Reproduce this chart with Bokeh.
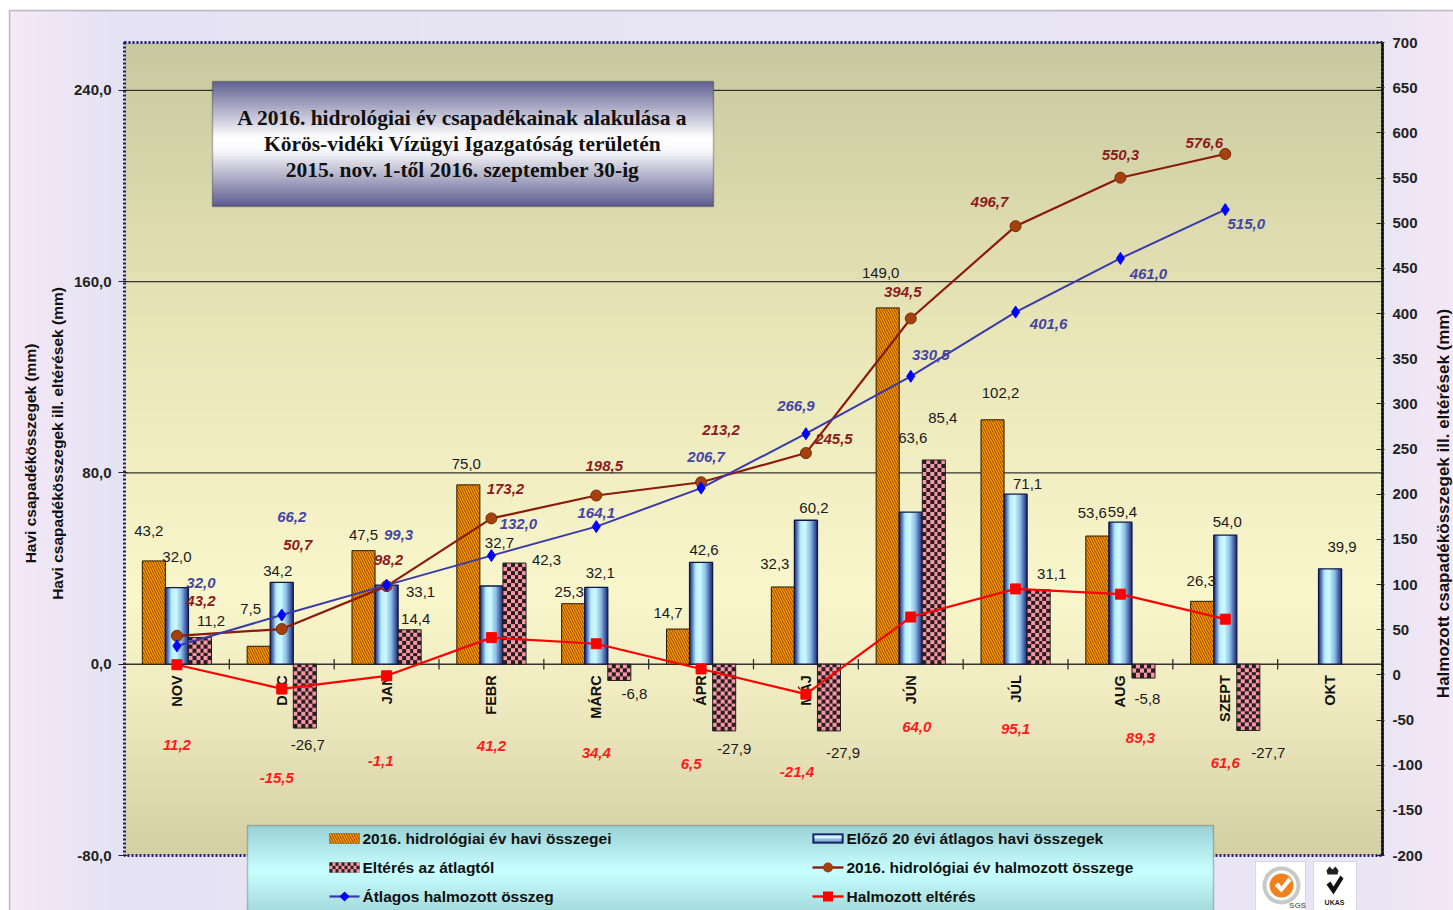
import math
import numpy as np
from bokeh.plotting import figure
from bokeh.models import (Range1d, LinearAxis, FixedTicker, ColumnDataSource,
                          Label, BoxAnnotation, PolyAnnotation)
from bokeh.core.properties import value
from bokeh.embed import file_html
from bokeh.resources import INLINE

# ---------------- data ----------------
months = ["NOV", "DEC", "JAN", "FEBR", "MÁRC", "ÁPR", "MÁJ", "JÚN", "JÚL", "AUG", "SZEPT", "OKT"]
monthly_2016 = [43.2, 7.5, 47.5, 75.0, 25.3, 14.7, 32.3, 149.0, 102.2, 53.6, 26.3]
avg_20yr = [32.0, 34.2, 33.1, 32.7, 32.1, 42.6, 60.2, 63.6, 71.1, 59.4, 54.0, 39.9]
deviation = [11.2, -26.7, 14.4, 42.3, -6.8, -27.9, -27.9, 85.4, 31.1, -5.8, -27.7]
cum_2016 = [43.2, 50.7, 98.2, 173.2, 198.5, 213.2, 245.5, 394.5, 496.7, 550.3, 576.6]
cum_avg = [32.0, 66.2, 99.3, 132.0, 164.1, 206.7, 266.9, 330.5, 401.6, 461.0, 515.0]
cum_dev = [11.2, -15.5, -1.1, 41.2, 34.4, 6.5, -21.4, 64.0, 95.1, 89.3, 61.6]
left_ticks = [-80, 0, 80, 160, 240]
left_limits = (-80, 260)
grid_ticks = [80, 160, 240]
right_ticks = list(range(-200, 701, 50))
right_limits = (-200, 700)

title_lines = ["A 2016. hidrológiai év csapadékainak alakulása a",
               "Körös-vidéki Vízügyi Igazgatóság területén",
               "2015. nov. 1-től 2016. szeptember 30-ig"]
legend_names = ["2016. hidrológiai év havi összegei", "Előző 20 évi átlagos havi összegek",
                "Eltérés az átlagtól", "2016. hidrológiai év halmozott összege",
                "Átlagos halmozott összeg", "Halmozott eltérés"]
left_titles = ["Havi csapadékösszegek (mm)", "Havi csapadékösszegek ill. eltérések (mm)"]
right_title = "Halmozott csapadékösszegek ill. eltérések (mm)"

# label pixel offsets (styling only)
orange_off = [(-5, -30), (-8, -37), (0, -16), (-2, -21), (-4, -12), (-10, -16), (-8, -23),
              (-7, -35), (8, -27), (-5, -23), (-1, -20)]
blue_off = [(0, -31), (-4, -11), (34, 7), (8, -43), (4, -14), (3, -12), (8, -12), (2, -74),
            (12, -10), (2, -10), (2, -13), (12, -22)]
dev_off = [(11, -16), (3, 17), (6, -11), (32, -3), (15, 14), (10, 18), (14, 22), (9, -42),
           (13, -16), (4, 21), (20, 23)]
cum16_off = [(24, -35), (16, -84), (2, -26), (14, -29), (8, -30), (20, -52), (28, -14),
             (-8, -26), (-26, -24), (0, -23), (-21, -11)]
cumavg_off = [(24, -63), (10, -98), (12, -50), (27, -32), (0, -14), (5, -31), (-10, -28),
              (20, -21), (33, 12), (28, 16), (21, 14)]
cumdev_off = [(0, 80), (-5, 89), (-6, 85), (0, 108), (0, 109), (-10, 95), (-9, 78), (6, 110),
              (0, 140), (20, 144), (0, 144)]

SANS = "Liberation Sans"
SERIF = "Liberation Serif"


def fmt(v):
    return f"{v:.1f}".replace(".", ",")


# ---------------- geometry (page pixels) ----------------
W, H = 1453, 910
FL, FT, FR, FB = 124, 42, 1382, 855     # plotting area edges
NCAT = len(months)
ppx = (FR - FL) / NCAT
ppy = (FB - FT) / (left_limits[1] - left_limits[0])
ppc = (FB - FT) / (right_limits[1] - right_limits[0])

x_rng = Range1d(-FL / ppx, NCAT + (W - FR) / ppx)
y_rng = Range1d(left_limits[0] - (H - FB) / ppy, left_limits[1] + FT / ppy)
c_rng = Range1d(right_limits[0] - (H - FB) / ppc, right_limits[1] + FT / ppc)


def px2x(px):
    return (px - FL) / ppx


def py2y(py):
    return left_limits[0] + (FB - py) / ppy


p = figure(width=W, height=H, x_range=x_rng, y_range=y_rng, x_axis_location=None,
           y_axis_location=None, output_backend="svg", toolbar_location=None, min_border=0)
p.extra_y_ranges = {"cum": c_rng}
p.background_fill_color = "#FFFFFF"
p.border_fill_color = "#FFFFFF"
p.outline_line_color = None
p.grid.visible = False


def grad_color(stops, t):
    for (t0, c0), (t1, c1) in zip(stops[:-1], stops[1:]):
        if t <= t1:
            f = 0.0 if t1 == t0 else (t - t0) / (t1 - t0)
            return tuple(int(round(a + (b - a) * f)) for a, b in zip(c0, c1))
    return stops[-1][1]


def hexc(c):
    return "#%02x%02x%02x" % c


def rgba_img(rows):
    arr = np.array(rows, dtype=np.uint8)
    return arr.view(np.uint32).reshape(arr.shape[0], arr.shape[1])


# outer (chart area) horizontal gradient
outer_stops = [(0.0, (246, 232, 247)), (0.07, (229, 227, 243)), (0.5, (232, 230, 244)),
               (0.95, (233, 229, 244)), (1.0, (245, 231, 246))]
NC = 200
orow = [[*grad_color(outer_stops, (j + 0.5) / NC), 255] for j in range(NC)]
p.image_rgba(image=[rgba_img([orow, orow])], x=px2x(9), y=py2y(H), dw=px2x(W) - px2x(9),
             dh=py2y(10) - py2y(H), level="image")

# plotting-area vertical gradient (row 0 = bottom)
bg_stops = [(0.0, (200, 200, 160)), (0.35, (232, 229, 183)), (0.68, (249, 246, 204)),
            (0.8, (240, 235, 192)), (1.0, (212, 206, 164))]
N = 300
bg_rows = []
for i in range(N):
    t = 1 - (i + 0.5) / N
    bg_rows.append([[*grad_color(bg_stops, t), 255]])
p.image_rgba(image=[rgba_img(bg_rows)], x=0, y=left_limits[0], dw=NCAT,
             dh=left_limits[1] - left_limits[0], level="image")

# grid lines and zero line
p.segment(x0=[0] * len(grid_ticks), y0=grid_ticks, x1=[NCAT] * len(grid_ticks), y1=grid_ticks,
          line_color="#333333", line_width=1.2)
p.segment(x0=[0], y0=[0], x1=[NCAT], y1=[0], line_color="#333333", line_width=1.6)

xs = [i + 0.5 for i in range(NCAT)]
BW = 0.22

# orange bars
x_or = [xs[i] - BW for i in range(len(monthly_2016))]
p.vbar(x=x_or, top=monthly_2016, width=BW, fill_color="#FF9A00", line_color="#2a1a00",
       line_width=1, hatch_pattern="\\", hatch_color="#8A4200", hatch_scale=5,
       hatch_weight=1.0)

# blue cylinder bars (horizontal gradient image per bar)
blue_stops = [(0.0, (28, 40, 105)), (0.1, (80, 115, 180)), (0.25, (185, 238, 252)),
              (0.45, (205, 250, 255)), (0.7, (145, 195, 232)), (0.88, (70, 98, 170)),
              (1.0, (28, 40, 105))]
bcols = 24
brow = [[*grad_color(blue_stops, (j + 0.5) / bcols), 255] for j in range(bcols)]
blue_img = rgba_img([brow, brow])
p.image_rgba(image=[blue_img] * len(avg_20yr), x=[x - BW / 2 for x in xs], y=[0] * len(avg_20yr),
             dw=[BW] * len(avg_20yr), dh=avg_20yr)
p.vbar(x=xs, top=avg_20yr, width=BW, fill_color=None, line_color="#101848", line_width=1.3)

# checkered deviation bars
x_dev = [xs[i] + BW for i in range(len(deviation))]
cell = 4
dev_imgs = []
for v in deviation:
    nr = max(1, int(round(abs(v) * ppy / cell)))
    nc = 6
    rows = []
    for i in range(nr * cell):
        row = []
        for j in range(nc * cell):
            dark = ((i // cell) + (j // cell)) % 2 == 0
            row.append([38, 30, 34, 255] if dark else [250, 150, 162, 255])
        rows.append(row)
    dev_imgs.append(rgba_img(rows))
p.image_rgba(image=dev_imgs, x=[x - BW / 2 for x in x_dev], y=[min(0, v) for v in deviation],
             dw=[BW] * len(deviation), dh=[abs(v) for v in deviation])
p.vbar(x=x_dev, top=deviation, width=BW, fill_color=None, line_color="#222222", line_width=1)

# category tick marks on the zero line
bounds = list(range(1, NCAT))
p.segment(x0=bounds, y0=[-2.2] * len(bounds), x1=bounds, y1=[2.2] * len(bounds),
          line_color="#333333", line_width=1.3)

# category labels
p.text(x=xs, y=[0] * len(xs), text=months, angle=math.pi / 2, text_align="right",
       text_baseline="middle", y_offset=11, text_font=value(SANS), text_font_style="bold",
       text_font_size=value("14.5px"), text_color="#111111")

# plotting-area border (navy dotted) and right axis line
p.quad(left=[0], right=[NCAT], bottom=[left_limits[0]], top=[left_limits[1]], fill_color=None,
       line_color="#1E1E86", line_width=3, line_dash="2 2")
p.segment(x0=[NCAT], y0=[right_limits[0]], x1=[NCAT], y1=[right_limits[1]],
          y_range_name="cum", line_color="#111111", line_width=2.5)

# cumulative lines
n = len(cum_2016)
p.line(xs[:n], cum_2016, y_range_name="cum", line_color="#8B1C0C", line_width=2.2)
p.scatter(xs[:n], cum_2016, y_range_name="cum", marker="circle", size=11,
          fill_color="#A4410E", line_color="#7A2A05")
p.line(xs[:n], cum_avg, y_range_name="cum", line_color="#3A3AA8", line_width=2)
p.scatter(xs[:n], cum_avg, y_range_name="cum", marker="diamond", size=12,
          fill_color="#0000FF", line_color="#0000FF")
p.line(xs[:n], cum_dev, y_range_name="cum", line_color="#FF0000", line_width=2.2)
p.scatter(xs[:n], cum_dev, y_range_name="cum", marker="square", size=10,
          fill_color="#FF0000", line_color="#FF0000")


def labels(x, y, vals, offs, color, style, y_range_name=None, size="15px"):
    src = ColumnDataSource(dict(x=x, y=y, t=[fmt(v) for v in vals],
                                dx=[o[0] for o in offs], dy=[o[1] for o in offs]))
    kw = dict(source=src, x="x", y="y", text="t", x_offset="dx", y_offset="dy",
              text_align="center", text_baseline="middle", text_font=value(SANS),
              text_font_style=style, text_font_size=value(size), text_color=color)
    if y_range_name:
        kw["y_range_name"] = y_range_name
    p.text(**kw)


labels(x_or, monthly_2016, monthly_2016, orange_off, "#1a1a1a", "normal", size="15px")
labels(xs, avg_20yr, avg_20yr, blue_off, "#1a1a1a", "normal", size="15px")
labels(x_dev, deviation, deviation, dev_off, "#1a1a1a", "normal", size="15px")
labels(xs[:n], cum_2016, cum_2016, cum16_off, "#8E1B1B", "bold italic", "cum")
labels(xs[:n], cum_avg, cum_avg, cumavg_off, "#4545A5", "bold italic", "cum")
labels(xs[:n], cum_dev, cum_dev, cumdev_off, "#FF1A1A", "bold italic", "cum")


# ---------------- axes (fixed at the plotting-area edges) ----------------
def style_axis(ax):
    ax.axis_line_color = None
    ax.major_tick_line_color = "#222222"
    ax.minor_tick_line_color = None
    ax.major_label_text_font = SANS
    ax.major_label_text_font_style = "bold"
    ax.major_label_text_font_size = "15px"
    ax.major_label_text_color = "#222222"


lax = LinearAxis(fixed_location=0, ticker=FixedTicker(ticks=left_ticks),
                 major_label_overrides={t: fmt(t) for t in left_ticks})
style_axis(lax)
lax.major_tick_out = 6
lax.major_tick_in = 3
lax.major_label_standoff = 7
p.add_layout(lax, "left")

rax = LinearAxis(y_range_name="cum", fixed_location=NCAT, ticker=FixedTicker(ticks=right_ticks),
                 major_label_overrides={t: str(t) for t in right_ticks})
style_axis(rax)
rax.major_tick_in = 6
rax.major_tick_out = 2
rax.major_label_standoff = 8
p.add_layout(rax, "right")


# ---------------- annotations in page pixels ----------------
def sbox(x0, y0, x1, y1, **kw):
    kw.setdefault("fill_alpha", 1.0)
    kw.setdefault("line_color", None)
    b = BoxAnnotation(left=x0, right=x1, top=H - y0, bottom=H - y1,
                      left_units="screen", right_units="screen",
                      top_units="screen", bottom_units="screen", **kw)
    p.add_layout(b)
    return b


def gradient_box(x0, y0, x1, y1, stops, step=3):
    y = y0
    while y < y1:
        ye = min(y + step, y1)
        t = ((y + ye) / 2 - y0) / (y1 - y0)
        sbox(x0, y, x1, min(ye + 1, y1), fill_color=hexc(grad_color(stops, t)))
        y = ye


def slabel(px, py, text, size="15px", style="bold", color="#111111", font=SANS,
           align="center", baseline="middle", angle=0.0):
    p.add_layout(Label(x=px, y=H - py, x_units="screen", y_units="screen", text=text,
                       text_font=font, text_font_size=size, text_font_style=style,
                       text_color=color, text_align=align, text_baseline=baseline,
                       angle=angle))


def spoly(pts, **kw):
    kw.setdefault("fill_alpha", 1.0)
    kw.setdefault("line_color", None)
    p.add_layout(PolyAnnotation(xs=[x for x, _ in pts], ys=[H - y for _, y in pts],
                                xs_units="screen", ys_units="screen", **kw))


# outer chart border
sbox(9, 10, W + 20, H + 20, fill_color=None, line_color="#333333", line_width=1.5)

# axis titles
slabel(30, 453, left_titles[0], size="15.5px", angle=math.pi / 2)
slabel(57, 443, left_titles[1], size="15.5px", angle=math.pi / 2)
slabel(1443, 503, right_title, size="17px", angle=math.pi / 2)

# title box
title_stops = [(0.0, (98, 98, 148)), (0.45, (255, 255, 255)), (0.55, (250, 250, 252)),
               (1.0, (92, 92, 142))]
gradient_box(212, 81, 713, 206, title_stops)
sbox(212, 81, 713, 206, fill_color=None, line_color="#222222", line_width=1.5)
for k, line in enumerate(title_lines):
    slabel(462, 117 + 26 * k, line, size="21.5px", font=SERIF, color="#111111")

# legend box
leg_stops = [(0.0, (152, 208, 212)), (0.5, (200, 255, 255)), (1.0, (160, 214, 216))]
gradient_box(247, 825, 1213, 915, leg_stops)
sbox(247, 825, 1213, 915, fill_color=None, line_color="#444444", line_width=1.5)
c1_icon, c1_text = (329, 359), 362
c2_icon, c2_text = (812, 843), 846
rows_y = [838, 867, 896]

# orange icon
sbox(c1_icon[0], rows_y[0] - 5, c1_icon[1], rows_y[0] + 5, fill_color="#FF9A00",
     line_color="#333333", line_width=1, hatch_pattern="\\", hatch_color="#8A4200",
     hatch_scale=5, hatch_weight=1.0)
# blue icon
sbox(c2_icon[0], rows_y[0] - 5, c2_icon[1], rows_y[0] + 5, fill_color="#1C2869",
     line_color="#101848", line_width=1)
sbox(c2_icon[0] + 2, rows_y[0] - 3, c2_icon[1] - 2, rows_y[0] + 3, fill_color="#8FB8E0")
sbox(c2_icon[0] + 2, rows_y[0] - 3, c2_icon[1] - 2, rows_y[0], fill_color="#D2F6FF")
# checkered icon
sbox(c1_icon[0], rows_y[1] - 5, c1_icon[1], rows_y[1] + 5, fill_color="#FA96A2",
     line_color="#333333", line_width=1)
for ci in range(10):
    for ri in range(3):
        if (ci + ri) % 2 == 0:
            x0 = c1_icon[0] + ci * 3
            y0 = rows_y[1] - 5 + ri * 3.33
            sbox(x0, y0, x0 + 3, y0 + 3.33, fill_color="#262022")
# brown line icon
cx2 = (c2_icon[0] + c2_icon[1]) / 2
sbox(c2_icon[0], rows_y[1] - 1.2, c2_icon[1], rows_y[1] + 1.2, fill_color="#8B1C0C")
sbox(cx2 - 5, rows_y[1] - 5, cx2 + 5, rows_y[1] + 5, fill_color="#A4410E", border_radius=5)
# blue line icon
cx1 = (c1_icon[0] + c1_icon[1]) / 2
sbox(c1_icon[0], rows_y[2] - 1.1, c1_icon[1], rows_y[2] + 1.1, fill_color="#3A3AA8")
spoly([(cx1 - 5, rows_y[2]), (cx1, rows_y[2] - 5), (cx1 + 5, rows_y[2]), (cx1, rows_y[2] + 5)],
      fill_color="#0000FF")
# red line icon
sbox(c2_icon[0], rows_y[2] - 1.2, c2_icon[1], rows_y[2] + 1.2, fill_color="#FF0000")
sbox(cx2 - 5, rows_y[2] - 5, cx2 + 5, rows_y[2] + 5, fill_color="#FF0000")

for k, name in enumerate(legend_names):
    row, col = divmod(k, 2)
    slabel(c1_text if col == 0 else c2_text, rows_y[row], name, size="15.5px", align="left")

# certification logos
sbox(1255, 861, 1305, 930, fill_color="#FFFFFF", line_color="#9a9a9a", line_width=1)
sbox(1313, 861, 1356, 930, fill_color="#FFFFFF", line_color="#9a9a9a", line_width=1)
sbox(1262, 866, 1300, 904, fill_color="#C8C8C8", border_radius=19)
sbox(1266, 870, 1296, 900, fill_color="#FFFFFF", border_radius=15)
sbox(1269, 873, 1293, 897, fill_color="#F0821E", border_radius=12)
spoly([(1274, 885), (1278, 882), (1281, 886), (1288, 877), (1291, 880), (1281, 892)],
      fill_color="#FFFFFF")
slabel(1297, 905, "SGS", size="8px", color="#777777")
spoly([(1326, 870), (1329, 866), (1332, 869), (1335, 866), (1338, 870), (1337, 874),
       (1327, 874)], fill_color="#222222")
spoly([(1326, 884), (1330, 881), (1333, 886), (1340, 875), (1343, 878), (1333, 894)],
      fill_color="#111111")
slabel(1334, 902, "UKAS", size="7px", color="#222222")

open("out.html", "w", encoding="utf-8").write(file_html(p, INLINE))
